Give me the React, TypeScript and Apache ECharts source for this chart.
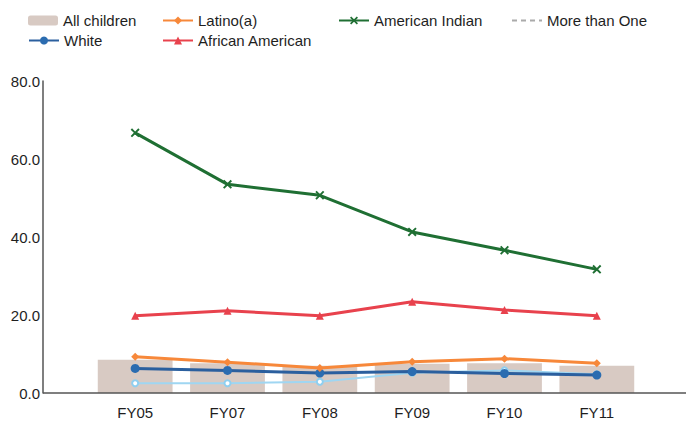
import React, { useEffect, useRef } from "react";
import * as echarts from "echarts";

const categories = ["FY05", "FY07", "FY08", "FY09", "FY10", "FY11"];
const allChildren = [8.5, 7.6, 7.0, 7.5, 7.6, 7.0];
const latino = [9.3, 7.9, 6.4, 8.0, 8.8, 7.6];
const americanIndian = [66.7, 53.5, 50.7, 41.3, 36.6, 31.7];
const moreThanOne = [2.5, 2.5, 2.9, 5.2, 5.8, 4.8];
const white = [6.3, 5.8, 5.1, 5.5, 5.0, 4.6];
const africanAmerican = [19.8, 21.1, 19.8, 23.4, 21.3, 19.8];
const yTicks = [0, 20, 40, 60, 80];

const FONT = "Liberation Sans, Arial, sans-serif";
const X_PATH = "path://M0,1.5L1.5,0L5,3.5L8.5,0L10,1.5L6.5,5L10,8.5L8.5,10L5,6.5L1.5,10L0,8.5L3.5,5Z";
const DASH_ICON = "path://M0,4h5v2h-5zM9,4h5v2h-5zM18,4h5v2h-5zM27,4h3v2h-3z";

export default function App() {
  const ref = useRef<HTMLDivElement>(null);
  useEffect(() => {
    if (!ref.current) return;
    const chart = echarts.init(ref.current, undefined, { renderer: "svg" });
    const legendText = { fontFamily: FONT, fontSize: 15, color: "#1e1e1e" };
    const mkLegend = (item: any, left: number, top: number) => ({
      data: [item],
      left,
      top,
      itemWidth: 30,
      itemHeight: 10,
      itemGap: 6,
      textStyle: legendText,
      padding: 0,
    });
    chart.setOption({
      animation: false,
      backgroundColor: "#ffffff",
      legend: [
        mkLegend("All children", 28, 13),
        mkLegend("Latino(a)", 162, 13),
        mkLegend("American Indian", 338, 13),
        mkLegend(
          { name: "More than One", icon: DASH_ICON, itemStyle: { color: "#aaa" } },
          512,
          13
        ),
        mkLegend("White", 28, 33),
        mkLegend("African American", 162, 33),
      ],
      grid: { left: 89, right: 43, top: 81, bottom: 29 },
      xAxis: {
        type: "category",
        data: categories,
        boundaryGap: true,
        axisLine: { show: false },
        axisTick: { show: false },
        axisLabel: { fontFamily: FONT, fontSize: 15, color: "#1e1e1e", margin: 12 },
      },
      yAxis: {
        type: "value",
        min: yTicks[0],
        max: yTicks[yTicks.length - 1],
        interval: 20,
        offset: 46,
        splitLine: { show: false },
        axisLine: { show: true, lineStyle: { color: "#555", width: 1.5 } },
        axisTick: { show: false },
        axisLabel: {
          fontFamily: FONT,
          fontSize: 15,
          color: "#1e1e1e",
          margin: 3,
          formatter: (v: number) => v.toFixed(1),
        },
      },
      graphic: [
        {
          type: "line",
          shape: { x1: 43, y1: 393, x2: 686, y2: 393 },
          style: { stroke: "#555", lineWidth: 1.5 },
          z: 10,
        },
      ],
      series: [
        {
          name: "All children",
          type: "bar",
          data: allChildren,
          barWidth: "81%",
          itemStyle: { color: "#d8cac3" },
          z: 1,
        },
        {
          name: "More than One",
          type: "line",
          data: moreThanOne,
          symbol: "emptyCircle",
          symbolSize: 6,
          lineStyle: { color: "#9fd6f2", width: 2 },
          itemStyle: { color: "#8fcff0", borderColor: "#7cc4ea" },
          z: 3,
        },
        {
          name: "White",
          type: "line",
          data: white,
          symbol: "circle",
          symbolSize: 9,
          lineStyle: { color: "#2b5f9e", width: 3 },
          itemStyle: { color: "#2b6cb0" },
          z: 4,
        },
        {
          name: "Latino(a)",
          type: "line",
          data: latino,
          symbol: "diamond",
          symbolSize: 8,
          lineStyle: { color: "#f7883a", width: 3 },
          itemStyle: { color: "#f7883a" },
          z: 5,
        },
        {
          name: "African American",
          type: "line",
          data: africanAmerican,
          symbol: "triangle",
          symbolSize: 8,
          lineStyle: { color: "#e8424d", width: 3 },
          itemStyle: { color: "#e8424d" },
          z: 6,
        },
        {
          name: "American Indian",
          type: "line",
          data: americanIndian,
          symbol: X_PATH,
          symbolSize: 9,
          lineStyle: { color: "#1f6f33", width: 3 },
          itemStyle: { color: "#1f6f33" },
          z: 7,
        },
      ],
    });
    return () => chart.dispose();
  }, []);
  return (
    <div
      ref={ref}
      style={{ position: "fixed", left: 0, top: 0, width: 686, height: 422, background: "#fff" }}
    />
  );
}
